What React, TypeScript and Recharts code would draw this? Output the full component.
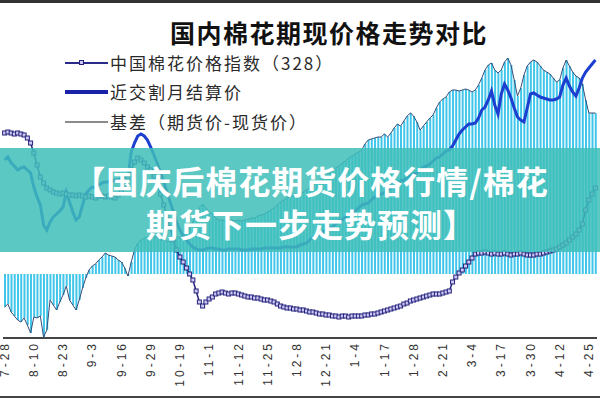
import { ComposedChart, Bar, Line, XAxis, YAxis } from 'recharts';

// tick labels, one every 9 trading days
const LABELS = ['7-28', '8-10', '8-23', '9-3', '9-16', '9-29', '10-19', '11-1', '11-12', '11-25', '12-8', '12-21', '1-4', '1-17', '1-28', '2-21', '3-4', '3-17', '3-30', '4-12', '4-25'];

// 中国棉花价格指数(328)
const SPOT = [
  12050, 12060, 12050, 12040, 12050, 12040, 12030, 12000, 11950,
  11850, 11730, 11610, 11550, 11500, 11480, 11460, 11450, 11440,
  11450, 11440, 11430, 11430, 11420, 11430, 11420, 11410, 11420,
  11410, 11400, 11420, 11420, 11410, 11420, 11410, 11400, 11430,
  11460, 11530, 11600, 11680, 11760, 11800, 11780, 11750, 11710,
  11680, 11620, 11540, 11440, 11330, 11220, 11100, 10980, 10880,
  10810, 10760, 10700, 10640, 10580, 10470, 10360, 10320, 10360,
  10390, 10410, 10440, 10450, 10460, 10450, 10440, 10450, 10450,
  10440, 10430, 10420, 10410, 10410, 10400, 10400, 10390, 10380,
  10380, 10370, 10360, 10340, 10320, 10310, 10300, 10300, 10290,
  10290, 10280, 10280, 10270, 10260, 10260, 10250, 10240, 10240,
  10230, 10230, 10220, 10220, 10210, 10220, 10220, 10210, 10220,
  10220, 10220, 10220, 10230, 10230, 10240, 10240, 10250, 10260,
  10270, 10280, 10290, 10300, 10310, 10320, 10340, 10350, 10370,
  10380, 10390, 10400, 10410, 10420, 10430, 10440, 10440, 10440,
  10450, 10460, 10470, 10560, 10610, 10650, 10680, 10720, 10760,
  10800, 10840, 10850, 10850, 10860, 10850, 10840, 10850, 10840,
  10840, 10850, 10840, 10830, 10840, 10840, 10850, 10840, 10830,
  10830, 10830, 10840, 10840, 10850, 10860, 10870, 10880, 10890,
  10910, 10930, 10950, 10980, 11010, 11040, 11080, 11140, 11280,
  11380, 11440, 11500,
];

// 近交割月结算价
const FUTURES = [
  11780, 11810, 11750, 11720, 11680, 11700, 11710, 11680, 11650,
  11510, 11410, 11330, 11130, 11080, 11160, 11210, 11240, 11270,
  11310, 11460, 11360, 11260, 11180, 11210, 11330, 11440, 11480,
  11510, 11500, 11530, 11550, 11560, 11560, 11570, 11580, 11580,
  11600, 11620, 11600, 11860, 11950, 12020, 12040, 12020, 11980,
  11910, 11830, 11750, 11660, 11560, 11460, 11360, 11260, 11160,
  11080, 11020, 10980, 10940, 10910, 10890, 10880, 10880, 10890,
  10900, 10900, 10890, 10890, 10880, 10880, 10890, 10890, 10890,
  10890, 10880, 10880, 10880, 10890, 10890, 10890, 10890, 10900,
  10900, 10900, 10900, 10900, 10900, 10910, 10910, 10910, 10910,
  10910, 10930, 10940, 10950, 10980, 11010, 11020, 11030, 11060,
  11080, 11100, 11110, 11140, 11170, 11180, 11210, 11240, 11250,
  11270, 11300, 11330, 11340, 11350, 11380, 11410, 11420, 11440,
  11450, 11480, 11500, 11510, 11540, 11570, 11580, 11600, 11630,
  11640, 11650, 11680, 11710, 11720, 11740, 11770, 11800, 11810,
  11840, 11870, 11880, 11920, 11980, 12040, 12080, 12110, 12140,
  12140, 12150, 12200, 12280, 12310, 12380, 12470, 12330, 12240,
  12440, 12540, 12480, 12400, 12300, 12210, 12180, 12160, 12300,
  12440, 12450, 12430, 12410, 12400, 12390, 12380, 12380, 12390,
  12410, 12530, 12600, 12520, 12460, 12420, 12500, 12600, 12660,
  12700, 12740, 12780,
];

// 基差(期货价-现货价)
const BASIS = [
  -330, -300, -380, -420, -460, -480, -440, -510, -590,
  -430, -440, -420, -630, -560, -260, -310, -360, -280,
  -210, -120, -260, -310, -360, -260, -140, -40, 40,
  80, 100, 140, 170, 210, 190, 180, 170, 140,
  120, 60, -20, 120, 240, 310, 340, 360, 370,
  380, 380, 360, 340, 340, 330, 320, 340, 380,
  360, 380, 420, 460, 520, 580, 660, 700, 660,
  620, 600, 560, 540, 540, 530, 540, 540, 530,
  540, 530, 540, 550, 560, 560, 580, 590, 600,
  620, 640, 660, 690, 720, 740, 760, 770, 780,
  780, 800, 820, 840, 860, 880, 910, 930, 960,
  980, 1010, 1030, 1060, 1080, 1110, 1130, 1160, 1180,
  1200, 1220, 1240, 1300, 1340, 1350, 1360, 1370, 1370,
  1400, 1370, 1410, 1460, 1500, 1480, 1530, 1580, 1610,
  1580, 1520, 1440, 1480, 1520, 1560, 1590, 1660, 1720,
  1750, 1770, 1820, 1840, 1840, 1830, 1840, 1850, 1840,
  1820, 1840, 1890, 1960, 2040, 2090, 2110, 2040, 2010,
  2040, 2120, 2160, 2090, 1940, 1780, 1860, 1990, 2080,
  2120, 2140, 2120, 2080, 2040, 2020, 2000, 1960, 1920,
  1940, 2060, 2140, 2080, 2020, 1980, 1960, 1900, 1740,
  1610, 1610, 1610,
];

const data = SPOT.map((s, i) => ({ idx: i, spot: s, fut: FUTURES[i], basis: BASIS[i] }));

const CJK = '"Noto Sans CJK SC", sans-serif';

const DateTick = (props: any) => {
  const { x, payload } = props;
  const label = LABELS[payload.value / 9];
  if (!label) return null;
  const y = 341;
  return (
    <text x={x} y={y} transform={`rotate(-90 ${x} ${y})`} textAnchor="end" dy="0.35em"
      fontSize={12} fill="#333" fontFamily="Liberation Sans, Arial" style={{ letterSpacing: 3 }}>
      {label}
    </text>
  );
};

const SquareDot = (props: any) => {
  const { cx, cy, index } = props;
  if (cx == null || cy == null) return <g key={index} />;
  return <rect key={index} x={cx - 2} y={cy - 2} width={4} height={4} fill="#cfc8f4" stroke="#22227a" strokeWidth={1} />;
};

const legendRows = [
  { y: 63, text: '中国棉花价格指数（328）', line: { h: 2, color: '#2a2a8a' }, marker: true },
  { y: 92, text: '近交割月结算价', line: { h: 4, color: '#1a22a8' }, marker: false },
  { y: 122, text: '基差（期货价-现货价）', line: { h: 2, color: '#8c8c8c' }, marker: false },
];

export default function App() {
  return (
    <div style={{ position: 'absolute', left: 0, top: 0, width: 600, height: 400, background: '#fff', overflow: 'hidden' }}>
      <div style={{ position: 'absolute', left: 0, top: 0 }}>
        <ComposedChart width={600} height={400} data={data} margin={{ top: 40, right: 3, left: 3, bottom: 0 }}>
          <XAxis dataKey="idx" interval={8} tick={(p: any) => <DateTick {...p} />} tickLine={false}
            axisLine={{ stroke: '#444', strokeWidth: 2 }} height={62} />
          <YAxis yAxisId="p" hide domain={[10000, 12980]} allowDataOverflow />
          <YAxis yAxisId="b" hide domain={[-640, 2340]} allowDataOverflow />
          <Bar yAxisId="b" dataKey="basis" fill="#3fc6ea" barSize={2} isAnimationActive={false} />
          <Line yAxisId="b" dataKey="basis" stroke="#3a4d78" strokeWidth={1} dot={false} activeDot={false} isAnimationActive={false} />
          <Line yAxisId="p" dataKey="spot" stroke="#22227a" strokeWidth={1.5} dot={SquareDot} activeDot={false} isAnimationActive={false} />
          <Line yAxisId="p" dataKey="fut" stroke="#1d3fcf" strokeWidth={3} dot={false} activeDot={false} isAnimationActive={false} />
        </ComposedChart>
      </div>

      {/* frame lines */}
      <div style={{ position: 'absolute', left: 0, top: 0, width: 600, height: 3, background: '#333' }} />
      <div style={{ position: 'absolute', left: 0, top: 396, width: 600, height: 2, background: '#444' }} />

      {/* title */}
      <div style={{ position: 'absolute', left: 0, top: 17, width: 658, textAlign: 'center', fontFamily: CJK, fontSize: 25, fontWeight: 700, lineHeight: '30px', letterSpacing: 1.5, color: '#111' }}>
        国内棉花期现价格走势对比
      </div>

      {/* legend */}
      {legendRows.map((r) => (
        <div key={r.text}>
          <div style={{ position: 'absolute', left: 65, top: r.y - r.line.h / 2, width: 43, height: r.line.h, background: r.line.color }} />
          {r.marker && (
            <div style={{ position: 'absolute', left: 79, top: r.y - 3, width: 5, height: 5, background: '#cfc8f4', border: '1px solid #22227a', boxSizing: 'border-box' }} />
          )}
          <div style={{ position: 'absolute', left: 110, top: r.y - 11, lineHeight: '22px', fontFamily: CJK, fontSize: 17, letterSpacing: 2, color: '#2a2a2a', whiteSpace: 'nowrap' }}>
            {r.text}
          </div>
        </div>
      ))}

      {/* banner */}
      <div style={{ position: 'absolute', left: 0, top: 148, width: 600, height: 104, background: 'rgba(63,190,186,0.85)' }} />
      <div style={{ position: 'absolute', left: 0, top: 159, width: 622, textAlign: 'center', fontFamily: CJK, fontSize: 32, fontWeight: 700, lineHeight: '43px', letterSpacing: 1, color: '#fff', whiteSpace: 'nowrap' }}>
        <div>【国庆后棉花期货价格行情/棉花</div>
        <div>期货下一步走势预测】</div>
      </div>
    </div>
  );
}
